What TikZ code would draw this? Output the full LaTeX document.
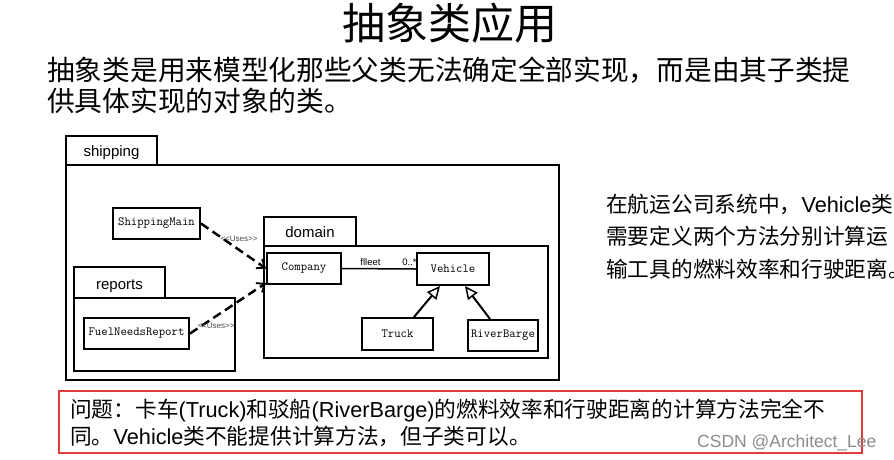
\documentclass[tikz,border=0pt]{standalone}
\usepackage{fontspec}
\setmainfont{Liberation Sans}
\newfontfamily\cjk{Noto Sans CJK SC}
\usetikzlibrary{arrows.meta}
\definecolor{boxred}{RGB}{225,60,60}
\begin{document}
\begin{tikzpicture}[x=1pt,y=-1pt,
  pkg/.style={draw=black, line width=2.3pt, fill=white},
  cls/.style={draw=black, line width=2pt, fill=white, inner sep=0pt, font=\ttfamily\fontsize{12.4}{14}\selectfont},
  pkglabel/.style={inner sep=0pt, anchor=base, font=\fontsize{15}{18}\selectfont},
  uses/.style={draw=black, line width=2.5pt, dash pattern=on 9pt off 5pt, -{Straight Barb[length=7pt,width=11pt,line width=1.8pt]}},
  gen/.style={draw=black, line width=2pt, -{Triangle[open,length=13pt,width=12pt,fill=white,line width=1.5pt]}},
  lbl/.style={inner sep=0pt, font=\fontsize{8}{9}\selectfont, text=black!70},
  cjkline/.style={inner sep=0pt, anchor=base west},
]
\useasboundingbox (0,0) rectangle (894,459);
\clip (0,0) rectangle (894,459);
\fill[white] (0,0) rectangle (894,459);

% title and intro
\node[inner sep=0pt, anchor=base, font=\cjk\fontsize{43}{50}\selectfont] (title) at (449.5,39) {抽象类应用};
\node[cjkline, font=\cjk\fontsize{27.7}{32}\selectfont] (p1) at (47,80) {抽象类是用来模型化那些父类无法确定全部实现，而是由其子类提};
\node[cjkline, font=\cjk\fontsize{27.7}{32}\selectfont] (p2) at (47,111.6) {供具体实现的对象的类。};

% packages
\draw[pkg] (66,136) rectangle (157,165);
\draw[pkg] (66,165) rectangle (559,380);
\node[pkglabel] (shiplbl) at (111.5,156) {shipping};

\draw[pkg] (74,267) rectangle (165,298);
\draw[pkg] (74,298) rectangle (235,371);
\node[pkglabel] (replbl) at (119.5,289) {reports};

\draw[pkg] (264,217) rectangle (356,246);
\draw[pkg] (264,246) rectangle (548,358);
\node[pkglabel] (domlbl) at (310,237) {domain};

% classes
\node[cls, minimum width=87pt, minimum height=31pt] (sm) at (156.5,223.5) {ShippingMain};
\node[cls, minimum width=105pt, minimum height=31pt] (fnr) at (136.5,333.5) {FuelNeedsReport};
\node[cls, minimum width=74pt, minimum height=31pt] (co) at (304,268.5) {Company};
\node[cls, minimum width=72pt, minimum height=32pt] (ve) at (453,269) {Vehicle};
\node[cls, minimum width=71pt, minimum height=32pt] (tr) at (397.5,334) {Truck};
\node[cls, minimum width=70pt, minimum height=31pt] (rb) at (503,335.5) {RiverBarge};

% uses dependencies
\draw[uses] (sm.east) -- (co.west);
\draw[uses] (fnr.east) -- ([yshift=2pt]co.south west);
\node[lbl] (u1) at (239,239) {<{}<Uses>{}>};
\node[lbl] (u2) at (216,326) {<{}<Uses>{}>};

% association
\draw[line width=1.5pt] (co.east) -- (ve.west);
\node[inner sep=0pt, font=\fontsize{9.5}{11}\selectfont] (fl) at (370.5,262.5) {flleet};
\node[inner sep=0pt, font=\fontsize{9.5}{11}\selectfont] (mul) at (409.5,262.5) {0..*};

% generalizations
\draw[gen] ([xshift=16.5pt]tr.north) -- ([xshift=-13pt]ve.south);
\draw[gen] ([xshift=-13pt]rb.north) -- ([xshift=12pt]ve.south);

% right text
\node[cjkline, font=\fontsize{21.7}{26}\selectfont] (r1) at (606,212) {{\cjk 在航运公司系统中，}Vehicle{\cjk 类}};
\node[cjkline, font=\fontsize{21.7}{26}\selectfont] (r2) at (606,244) {{\cjk 需要定义两个方法分别计算运}};
\node[cjkline, font=\fontsize{21.7}{26}\selectfont] (r3) at (606,277) {{\cjk 输工具的燃料效率和行驶距离。}};

% red box
\node[draw=boxred, line width=1.3pt, minimum width=803pt, minimum height=62pt, inner sep=0pt] (box) at (460.5,422) {};
\node[cjkline, font=\fontsize{21.7}{26}\selectfont] (q1) at (70,417) {{\cjk 问题：卡车}(Truck){\cjk 和驳船}(RiverBarge){\cjk 的燃料效率和行驶距离的计算方法完全不}};
\node[cjkline, font=\fontsize{21.7}{26}\selectfont] (q2) at (70,444) {{\cjk 同。}Vehicle{\cjk 类不能提供计算方法，但子类可以。}};

% watermark
\node[cjkline, font=\fontsize{17.5}{20}\selectfont, text=black!45] (wm) at (697,447) {CSDN @Architect\_Lee};
\end{tikzpicture}
\end{document}
